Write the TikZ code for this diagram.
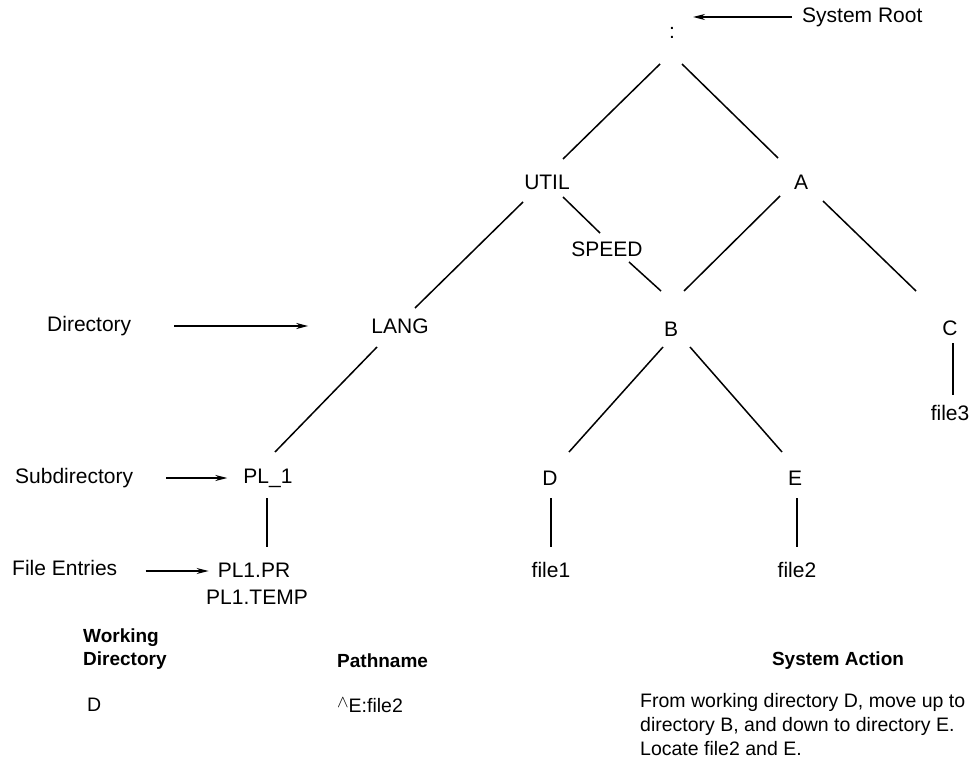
\documentclass[tikz,border=0pt]{standalone}
\usepackage{fontspec}
\setmainfont{Liberation Sans}
\usetikzlibrary{calc,arrows.meta}
\begin{document}
\begin{tikzpicture}[x=1pt,y=-1pt,
  lbl/.style={inner sep=0pt,font=\fontsize{21}{25}\selectfont},
  txt/.style={inner sep=0pt,font=\fontsize{19.5}{24}\selectfont},
  hdr/.style={inner sep=0pt,font=\fontsize{19}{23}\selectfont\bfseries},
  edge/.style={line width=1.5pt},
  ptr/.style={line width=1.5pt,-{Stealth[length=12pt,width=6pt]}}]
\useasboundingbox (0,0) rectangle (974,778);
% tree nodes
\node[lbl] (root) at (672,33) {:};
\node[lbl] (util) at (547,182) {UTIL};
\node[lbl] (a) at (801,182) {A};
\node[lbl] (speed) at (607,249) {SPEED};
\node[lbl] (lang) at (400,326) {LANG};
\node[lbl] (b) at (671,329) {B};
\node[lbl] (c) at (950,328) {C};
\node[lbl] (file3) at (950,413) {file3};
\node[lbl] (pl) at (268,478) {PL\_1};
\node[lbl] (d) at (550,478) {D};
\node[lbl] (e) at (795,478) {E};
\node[lbl] (plpr) at (254,570) {PL1.PR};
\node[lbl] (pltemp) at (257,597) {PL1.TEMP};
\node[lbl] (file1) at (551,570) {file1};
\node[lbl] (file2) at (797,570) {file2};
% tree edges
\draw[edge] ($(root)+(-12,31)$) -- ($(util)+(16,-23)$);
\draw[edge] ($(root)+(10,31)$) -- ($(a)+(-23,-24)$);
\draw[edge] ($(util)+(-24,20)$) -- ($(lang)+(15,-18)$);
\draw[edge] ($(util)+(16,15)$) -- ($(speed)+(-7,-16)$);
\draw[edge] ($(speed)+(22,13)$) -- ($(b)+(-10,-38)$);
\draw[edge] ($(a)+(-21,14)$) -- ($(b)+(13,-38)$);
\draw[edge] ($(a)+(22,19)$) -- ($(c)+(-34,-37)$);
\draw[edge] ($(c)+(3,15)$) -- ($(file3)+(3,-18)$);
\draw[edge] ($(lang)+(-23,21)$) -- ($(pl)+(7,-26)$);
\draw[edge] ($(b)+(-8,18)$) -- ($(d)+(19,-26)$);
\draw[edge] ($(b)+(19,18)$) -- ($(e)+(-13,-26)$);
\draw[edge] ($(pl)+(-1,20)$) -- ($(plpr)+(13,-23)$);
\draw[edge] ($(d)+(1,20)$) -- ($(file1)+(0,-23)$);
\draw[edge] ($(e)+(2,20)$) -- ($(file2)+(0,-23)$);
% side labels
\node[lbl,anchor=west] (sysroot) at (802,17) {System Root};
\draw[ptr] ($(sysroot.west)+(-10,0)$) -- ($(root)+(21,-16)$);
\node[lbl,anchor=west] (dirlbl) at (47,326) {Directory};
\draw[ptr] ($(lang.west)+(-197,0)$) -- ($(lang.west)+(-63,0)$);
\node[lbl,anchor=west] (sublbl) at (15,478) {Subdirectory};
\draw[ptr] ($(pl.west)+(-77,0)$) -- ($(pl.west)+(-16,0)$);
\node[lbl,anchor=west] (filelbl) at (12,568) {File Entries};
\draw[ptr] ($(plpr.west)+(-72,1)$) -- ($(plpr.west)+(-9,1)$);
% bottom table
\node[hdr,anchor=west] (work) at (83,638) {Working};
\node[hdr,anchor=west] (wdir) at (83,661) {Directory};
\node[hdr,anchor=west] (path) at (337,661) {Pathname};
\node[hdr] (sact) at (838,661) {System Action};
\node[txt,anchor=west] (dval) at (87,705) {D};
\node[txt,anchor=west] (pval) at (337,705) {\raisebox{5pt}{\fontsize{19}{19}\selectfont$\wedge$}E:file2};
\node[txt,anchor=north west,align=left] (aval) at (640,693) {From working directory D, move up to\\directory B, and down to directory E.\\Locate file2 and E.};
\end{tikzpicture}
\end{document}
